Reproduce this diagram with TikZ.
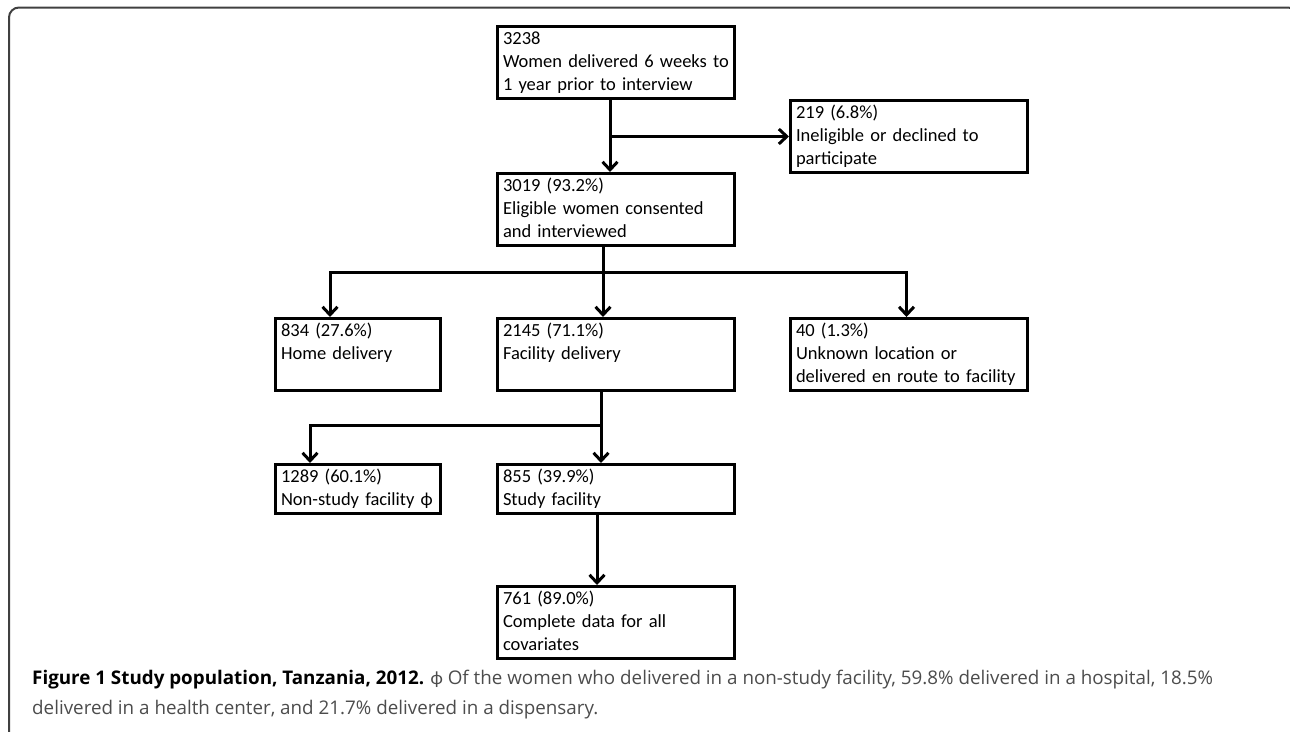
\documentclass[tikz,border=0pt]{standalone}
\usepackage{fontspec}
\setmainfont{Carlito}
\newfontfamily\capfont{Open Sans}
\usetikzlibrary{arrows.meta}

\definecolor{capgray}{gray}{0.3}
\definecolor{framegray}{gray}{0.25}

\tikzset{
  flowbox/.style={draw, line width=3pt, anchor=north west, align=left,
    inner xsep=5.5pt, inner ysep=1.5pt, text width=#1,
    font=\fontsize{18.5}{23}\selectfont,
    execute at begin node=\strut, execute at end node=\strut},
  flowbox/.default=226pt,
  link/.style={line width=3pt},
  arr/.style={link, -{Straight Barb[length=8pt,width=15pt]}}
}

\begin{document}
\begin{tikzpicture}[x=1pt, y=-1pt]
    \useasboundingbox (0,0) rectangle (1290,731);
    \draw[framegray, line width=2pt, rounded corners=10pt] (9,760) -- (9,7.5) -- (1298,7.5) -- (1298,760);

    % boxes
    \node[flowbox] (total) at (496,25) {3238\\Women delivered 6 weeks to\\1 year prior to interview};
    \node[flowbox] (excluded) at (789,99) {219 (6.8\%)\\Ineligible or declined to\\participate};
    \node[flowbox] (consented) at (496,172) {3019 (93.2\%)\\Eligible women consented\\and interviewed};
    \node[flowbox=154pt] (home) at (274,317) {834 (27.6\%)\\Home delivery\\~};
    \node[flowbox] (facility) at (496,317) {2145 (71.1\%)\\Facility delivery\\~};
    \node[flowbox] (unknown) at (789,317) {40 (1.3\%)\\Unknown location or\\delivered en route to facility};
    \node[flowbox=154pt] (nonstudy) at (274,463) {1289 (60.1\%)\\Non-study facility ϕ};
    \node[flowbox] (study) at (496,463) {855 (39.9\%)\\Study facility};
    \node[flowbox] (complete) at (496,585) {761 (89.0\%)\\Complete data for all\\covariates};

    % connectors
    \draw[arr] ([xshift=-6pt]total.south) -- ([xshift=-6pt]consented.north);
    \draw[arr] ([xshift=-6pt]total.south |- excluded.west) -- (excluded.west);

    \coordinate (forkB) at (603,272);
    \draw[link] (forkB |- consented.south) -- (forkB);
    \draw[arr] (forkB) -| ([xshift=-28pt]home.north);
    \draw[arr] (forkB) -- (forkB |- facility.north);
    \draw[arr] (forkB) -| ([xshift=-2.5pt]unknown.north);

    \coordinate (forkC) at (601,425);
    \draw[link] (forkC |- facility.south) -- (forkC);
    \draw[arr] (forkC) -| ([xshift=-48pt]nonstudy.north);
    \draw[arr] (forkC) -- (forkC |- study.north);
    \draw[arr] ([xshift=-19pt]study.south) -- ([xshift=-19pt]complete.north);

    % caption
    \node[anchor=base west, inner sep=0pt, align=left, text=capgray,
      font=\capfont\fontsize{18.8}{30}\selectfont] (caption) at (32,714)
      {{\bfseries\color{black}Figure 1 Study population, Tanzania, 2012.} {\rmfamily ϕ} Of the women who delivered in a non-study facility, 59.8\% delivered in a hospital, 18.5\%\\
       delivered in a health center, and 21.7\% delivered in a dispensary.};
\end{tikzpicture}
\end{document}
